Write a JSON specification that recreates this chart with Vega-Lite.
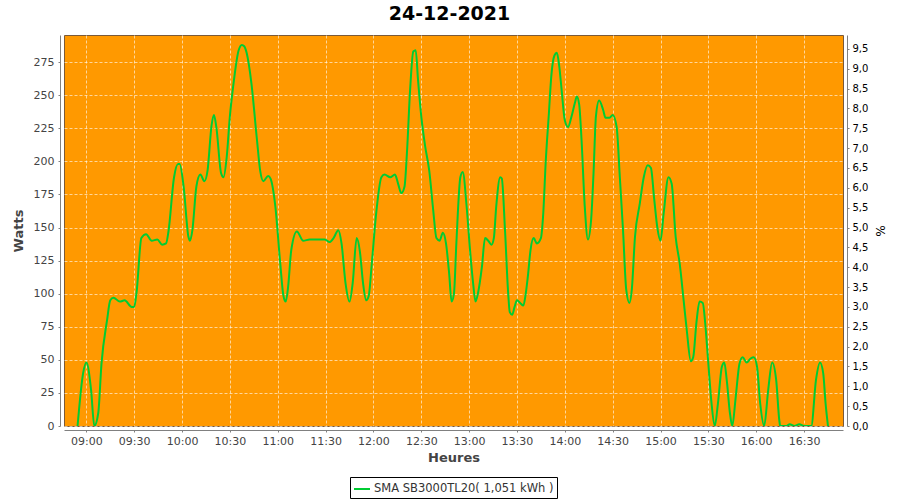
{
  "$schema": "https://vega.github.io/schema/vega-lite/v6.json",
  "width": 779,
  "height": 391,
  "autosize": {"type": "none"},
  "padding": {"left": 64, "top": 35, "right": 57, "bottom": 74},
  "background": "white",
  "title": {"text": "24-12-2021", "font": "DejaVu Sans", "fontSize": 19, "fontWeight": "bold", "color": "#000000", "offset": 11, "dx": -4},
  "data": {"values": [
    {"t": "2021-12-24T08:54:30", "w": 0},
    {"t": "2021-12-24T08:58:00", "w": 40},
    {"t": "2021-12-24T09:00:00", "w": 48},
    {"t": "2021-12-24T09:03:00", "w": 27},
    {"t": "2021-12-24T09:05:00", "w": 0},
    {"t": "2021-12-24T09:07:30", "w": 10},
    {"t": "2021-12-24T09:09:30", "w": 47},
    {"t": "2021-12-24T09:13:00", "w": 80},
    {"t": "2021-12-24T09:15:00", "w": 95},
    {"t": "2021-12-24T09:17:00", "w": 97},
    {"t": "2021-12-24T09:21:00", "w": 94},
    {"t": "2021-12-24T09:24:00", "w": 95},
    {"t": "2021-12-24T09:28:30", "w": 90},
    {"t": "2021-12-24T09:30:00", "w": 90},
    {"t": "2021-12-24T09:31:30", "w": 101},
    {"t": "2021-12-24T09:34:30", "w": 142},
    {"t": "2021-12-24T09:37:30", "w": 145},
    {"t": "2021-12-24T09:41:00", "w": 140},
    {"t": "2021-12-24T09:44:30", "w": 141},
    {"t": "2021-12-24T09:47:30", "w": 137},
    {"t": "2021-12-24T09:50:00", "w": 138},
    {"t": "2021-12-24T09:51:30", "w": 147},
    {"t": "2021-12-24T09:55:00", "w": 188},
    {"t": "2021-12-24T09:57:30", "w": 198},
    {"t": "2021-12-24T09:58:30", "w": 198},
    {"t": "2021-12-24T10:01:00", "w": 181},
    {"t": "2021-12-24T10:04:00", "w": 143},
    {"t": "2021-12-24T10:05:00", "w": 140},
    {"t": "2021-12-24T10:06:30", "w": 148},
    {"t": "2021-12-24T10:09:00", "w": 181},
    {"t": "2021-12-24T10:11:30", "w": 190},
    {"t": "2021-12-24T10:14:00", "w": 185},
    {"t": "2021-12-24T10:16:00", "w": 193},
    {"t": "2021-12-24T10:18:30", "w": 227},
    {"t": "2021-12-24T10:20:00", "w": 235},
    {"t": "2021-12-24T10:21:30", "w": 226},
    {"t": "2021-12-24T10:24:30", "w": 191},
    {"t": "2021-12-24T10:26:00", "w": 188},
    {"t": "2021-12-24T10:28:00", "w": 203},
    {"t": "2021-12-24T10:30:00", "w": 234},
    {"t": "2021-12-24T10:32:00", "w": 256},
    {"t": "2021-12-24T10:35:30", "w": 284},
    {"t": "2021-12-24T10:37:30", "w": 288},
    {"t": "2021-12-24T10:39:00", "w": 287},
    {"t": "2021-12-24T10:40:30", "w": 282},
    {"t": "2021-12-24T10:43:30", "w": 259},
    {"t": "2021-12-24T10:47:00", "w": 216},
    {"t": "2021-12-24T10:49:00", "w": 193},
    {"t": "2021-12-24T10:51:00", "w": 185},
    {"t": "2021-12-24T10:54:00", "w": 189},
    {"t": "2021-12-24T10:55:30", "w": 187},
    {"t": "2021-12-24T10:58:30", "w": 166},
    {"t": "2021-12-24T11:01:30", "w": 124},
    {"t": "2021-12-24T11:03:30", "w": 99},
    {"t": "2021-12-24T11:05:00", "w": 94},
    {"t": "2021-12-24T11:06:30", "w": 105},
    {"t": "2021-12-24T11:08:30", "w": 133},
    {"t": "2021-12-24T11:12:00", "w": 147},
    {"t": "2021-12-24T11:16:00", "w": 140},
    {"t": "2021-12-24T11:20:00", "w": 141},
    {"t": "2021-12-24T11:29:30", "w": 141},
    {"t": "2021-12-24T11:32:30", "w": 139},
    {"t": "2021-12-24T11:35:00", "w": 142},
    {"t": "2021-12-24T11:38:00", "w": 148},
    {"t": "2021-12-24T11:40:00", "w": 138},
    {"t": "2021-12-24T11:42:30", "w": 108},
    {"t": "2021-12-24T11:45:00", "w": 94},
    {"t": "2021-12-24T11:47:00", "w": 108},
    {"t": "2021-12-24T11:49:30", "w": 142},
    {"t": "2021-12-24T11:51:30", "w": 132},
    {"t": "2021-12-24T11:53:30", "w": 108},
    {"t": "2021-12-24T11:55:30", "w": 95},
    {"t": "2021-12-24T11:57:00", "w": 98},
    {"t": "2021-12-24T11:59:00", "w": 123},
    {"t": "2021-12-24T12:01:30", "w": 158},
    {"t": "2021-12-24T12:05:00", "w": 188},
    {"t": "2021-12-24T12:07:00", "w": 190},
    {"t": "2021-12-24T12:10:30", "w": 188},
    {"t": "2021-12-24T12:13:30", "w": 190},
    {"t": "2021-12-24T12:15:30", "w": 183},
    {"t": "2021-12-24T12:17:30", "w": 176},
    {"t": "2021-12-24T12:19:30", "w": 181},
    {"t": "2021-12-24T12:21:00", "w": 206},
    {"t": "2021-12-24T12:23:00", "w": 254},
    {"t": "2021-12-24T12:25:00", "w": 283},
    {"t": "2021-12-24T12:26:30", "w": 284},
    {"t": "2021-12-24T12:28:00", "w": 261},
    {"t": "2021-12-24T12:30:00", "w": 234},
    {"t": "2021-12-24T12:32:30", "w": 211},
    {"t": "2021-12-24T12:35:00", "w": 193},
    {"t": "2021-12-24T12:37:30", "w": 163},
    {"t": "2021-12-24T12:39:30", "w": 142},
    {"t": "2021-12-24T12:41:30", "w": 140},
    {"t": "2021-12-24T12:43:30", "w": 146},
    {"t": "2021-12-24T12:45:30", "w": 138},
    {"t": "2021-12-24T12:47:30", "w": 115},
    {"t": "2021-12-24T12:49:00", "w": 94},
    {"t": "2021-12-24T12:50:30", "w": 100},
    {"t": "2021-12-24T12:52:00", "w": 138},
    {"t": "2021-12-24T12:54:30", "w": 188},
    {"t": "2021-12-24T12:56:00", "w": 192},
    {"t": "2021-12-24T12:58:30", "w": 165},
    {"t": "2021-12-24T13:00:30", "w": 134},
    {"t": "2021-12-24T13:02:30", "w": 108},
    {"t": "2021-12-24T13:04:00", "w": 94},
    {"t": "2021-12-24T13:05:30", "w": 100},
    {"t": "2021-12-24T13:08:00", "w": 120},
    {"t": "2021-12-24T13:10:00", "w": 142},
    {"t": "2021-12-24T13:12:00", "w": 140},
    {"t": "2021-12-24T13:14:00", "w": 137},
    {"t": "2021-12-24T13:15:30", "w": 142},
    {"t": "2021-12-24T13:17:00", "w": 166},
    {"t": "2021-12-24T13:19:30", "w": 188},
    {"t": "2021-12-24T13:20:30", "w": 187},
    {"t": "2021-12-24T13:22:30", "w": 148},
    {"t": "2021-12-24T13:24:30", "w": 100},
    {"t": "2021-12-24T13:25:30", "w": 86},
    {"t": "2021-12-24T13:27:00", "w": 84},
    {"t": "2021-12-24T13:28:30", "w": 90},
    {"t": "2021-12-24T13:30:00", "w": 95},
    {"t": "2021-12-24T13:32:00", "w": 93},
    {"t": "2021-12-24T13:34:00", "w": 91},
    {"t": "2021-12-24T13:35:30", "w": 100},
    {"t": "2021-12-24T13:37:00", "w": 115},
    {"t": "2021-12-24T13:38:30", "w": 133},
    {"t": "2021-12-24T13:40:30", "w": 142},
    {"t": "2021-12-24T13:42:30", "w": 138},
    {"t": "2021-12-24T13:45:00", "w": 142},
    {"t": "2021-12-24T13:46:30", "w": 161},
    {"t": "2021-12-24T13:48:00", "w": 199},
    {"t": "2021-12-24T13:50:00", "w": 236},
    {"t": "2021-12-24T13:51:30", "w": 264},
    {"t": "2021-12-24T13:53:30", "w": 280},
    {"t": "2021-12-24T13:55:00", "w": 282},
    {"t": "2021-12-24T13:56:30", "w": 272},
    {"t": "2021-12-24T13:58:00", "w": 254},
    {"t": "2021-12-24T14:00:00", "w": 231},
    {"t": "2021-12-24T14:02:00", "w": 226},
    {"t": "2021-12-24T14:04:00", "w": 233},
    {"t": "2021-12-24T14:06:30", "w": 245},
    {"t": "2021-12-24T14:07:30", "w": 249},
    {"t": "2021-12-24T14:09:00", "w": 243},
    {"t": "2021-12-24T14:10:30", "w": 216},
    {"t": "2021-12-24T14:12:30", "w": 166},
    {"t": "2021-12-24T14:14:30", "w": 141},
    {"t": "2021-12-24T14:16:30", "w": 156},
    {"t": "2021-12-24T14:18:00", "w": 191},
    {"t": "2021-12-24T14:19:30", "w": 234},
    {"t": "2021-12-24T14:21:30", "w": 246},
    {"t": "2021-12-24T14:24:00", "w": 239},
    {"t": "2021-12-24T14:25:30", "w": 233},
    {"t": "2021-12-24T14:28:00", "w": 233},
    {"t": "2021-12-24T14:30:00", "w": 235},
    {"t": "2021-12-24T14:32:30", "w": 226},
    {"t": "2021-12-24T14:34:30", "w": 188},
    {"t": "2021-12-24T14:36:30", "w": 148},
    {"t": "2021-12-24T14:38:30", "w": 103},
    {"t": "2021-12-24T14:40:30", "w": 93},
    {"t": "2021-12-24T14:42:00", "w": 103},
    {"t": "2021-12-24T14:44:00", "w": 143},
    {"t": "2021-12-24T14:47:00", "w": 168},
    {"t": "2021-12-24T14:49:30", "w": 188},
    {"t": "2021-12-24T14:52:00", "w": 197},
    {"t": "2021-12-24T14:54:00", "w": 195},
    {"t": "2021-12-24T14:56:00", "w": 172},
    {"t": "2021-12-24T14:58:00", "w": 150},
    {"t": "2021-12-24T15:00:00", "w": 140},
    {"t": "2021-12-24T15:02:00", "w": 161},
    {"t": "2021-12-24T15:05:00", "w": 188},
    {"t": "2021-12-24T15:07:00", "w": 183},
    {"t": "2021-12-24T15:09:30", "w": 143},
    {"t": "2021-12-24T15:12:00", "w": 123},
    {"t": "2021-12-24T15:14:30", "w": 95},
    {"t": "2021-12-24T15:16:30", "w": 72},
    {"t": "2021-12-24T15:19:00", "w": 49},
    {"t": "2021-12-24T15:20:30", "w": 52},
    {"t": "2021-12-24T15:22:30", "w": 78},
    {"t": "2021-12-24T15:24:30", "w": 94},
    {"t": "2021-12-24T15:26:30", "w": 93},
    {"t": "2021-12-24T15:28:00", "w": 78},
    {"t": "2021-12-24T15:30:00", "w": 47},
    {"t": "2021-12-24T15:32:00", "w": 17},
    {"t": "2021-12-24T15:34:00", "w": 0},
    {"t": "2021-12-24T15:36:00", "w": 17},
    {"t": "2021-12-24T15:38:30", "w": 45},
    {"t": "2021-12-24T15:40:00", "w": 48},
    {"t": "2021-12-24T15:41:30", "w": 35},
    {"t": "2021-12-24T15:43:30", "w": 10},
    {"t": "2021-12-24T15:45:00", "w": 0},
    {"t": "2021-12-24T15:47:00", "w": 20},
    {"t": "2021-12-24T15:49:30", "w": 47},
    {"t": "2021-12-24T15:51:30", "w": 52},
    {"t": "2021-12-24T15:54:00", "w": 48},
    {"t": "2021-12-24T15:56:30", "w": 51},
    {"t": "2021-12-24T15:58:30", "w": 52},
    {"t": "2021-12-24T16:00:30", "w": 45},
    {"t": "2021-12-24T16:02:30", "w": 17},
    {"t": "2021-12-24T16:05:00", "w": 0},
    {"t": "2021-12-24T16:07:30", "w": 27},
    {"t": "2021-12-24T16:10:00", "w": 48},
    {"t": "2021-12-24T16:12:30", "w": 35},
    {"t": "2021-12-24T16:14:30", "w": 4},
    {"t": "2021-12-24T16:15:00", "w": 0},
    {"t": "2021-12-24T16:19:00", "w": 0},
    {"t": "2021-12-24T16:21:00", "w": 1.3},
    {"t": "2021-12-24T16:24:00", "w": 0},
    {"t": "2021-12-24T16:27:00", "w": 1.3},
    {"t": "2021-12-24T16:30:00", "w": 0},
    {"t": "2021-12-24T16:34:30", "w": 0},
    {"t": "2021-12-24T16:37:30", "w": 35},
    {"t": "2021-12-24T16:40:00", "w": 48},
    {"t": "2021-12-24T16:42:00", "w": 40},
    {"t": "2021-12-24T16:43:30", "w": 17},
    {"t": "2021-12-24T16:45:00", "w": 0}
  ]},
  "layer": [
    {
      "mark": {"type": "line", "strokeWidth": 2, "interpolate": "monotone", "clip": true},
      "encoding": {
        "x": {
          "field": "t", "type": "temporal",
          "scale": {"domain": [{"year": 2021, "month": 12, "date": 24, "hours": 8, "minutes": 46}, {"year": 2021, "month": 12, "date": 24, "hours": 16, "minutes": 54, "seconds": 25}]},
          "axis": {
            "title": "Heures", "format": "%H:%M",
            "values": [
              {"year": 2021, "month": 12, "date": 24, "hours": 9, "minutes": 0},
              {"year": 2021, "month": 12, "date": 24, "hours": 9, "minutes": 30},
              {"year": 2021, "month": 12, "date": 24, "hours": 10, "minutes": 0},
              {"year": 2021, "month": 12, "date": 24, "hours": 10, "minutes": 30},
              {"year": 2021, "month": 12, "date": 24, "hours": 11, "minutes": 0},
              {"year": 2021, "month": 12, "date": 24, "hours": 11, "minutes": 30},
              {"year": 2021, "month": 12, "date": 24, "hours": 12, "minutes": 0},
              {"year": 2021, "month": 12, "date": 24, "hours": 12, "minutes": 30},
              {"year": 2021, "month": 12, "date": 24, "hours": 13, "minutes": 0},
              {"year": 2021, "month": 12, "date": 24, "hours": 13, "minutes": 30},
              {"year": 2021, "month": 12, "date": 24, "hours": 14, "minutes": 0},
              {"year": 2021, "month": 12, "date": 24, "hours": 14, "minutes": 30},
              {"year": 2021, "month": 12, "date": 24, "hours": 15, "minutes": 0},
              {"year": 2021, "month": 12, "date": 24, "hours": 15, "minutes": 30},
              {"year": 2021, "month": 12, "date": 24, "hours": 16, "minutes": 0},
              {"year": 2021, "month": 12, "date": 24, "hours": 16, "minutes": 30}
            ],
            "offset": 4, "grid": true, "gridColor": "#FFFFFF", "gridOpacity": 0.6, "gridDash": [3, 2], "gridWidth": 1,
            "domainColor": "#808080", "tickColor": "#808080", "tickSize": 2,
            "labelFont": "DejaVu Sans", "labelFontSize": 11, "labelColor": "#444444", "labelPadding": 3,
            "titleFont": "DejaVu Sans", "titleFontSize": 13, "titleFontWeight": "bold", "titleColor": "#444444", "titlePadding": 5
          }
        },
        "y": {
          "field": "w", "type": "quantitative",
          "scale": {"domain": [0, 295.5], "nice": false, "zero": true},
          "axis": {
            "title": "Watts", "orient": "left", "values": [0, 25, 50, 75, 100, 125, 150, 175, 200, 225, 250, 275],
            "offset": 4, "grid": true, "gridColor": "#FFFFFF", "gridOpacity": 0.6, "gridDash": [3, 2], "gridWidth": 1,
            "domainColor": "#808080", "tickColor": "#808080", "tickSize": 2,
            "labelFont": "DejaVu Sans", "labelFontSize": 11, "labelColor": "#444444", "labelPadding": 4,
            "titleFont": "DejaVu Sans", "titleFontSize": 13, "titleFontWeight": "bold", "titleColor": "#444444", "titlePadding": 8
          }
        },
        "color": {
          "datum": "SMA SB3000TL20( 1,051 kWh )",
          "type": "nominal",
          "scale": {"range": ["#00CC33"]},
          "legend": {
            "title": null, "orient": "none", "legendX": 286, "legendY": 442,
            "strokeColor": "#000000", "fillColor": "#FFFFFF", "padding": 3,
            "symbolType": "stroke", "symbolSize": 256, "symbolStrokeWidth": 2,
            "labelFont": "DejaVu Sans", "labelFontSize": 11.5, "labelColor": "#333333", "labelOffset": 3, "labelLimit": 400
          }
        }
      }
    },
    {
      "mark": {"type": "line", "opacity": 0, "clip": true},
      "encoding": {
        "x": {"field": "t", "type": "temporal"},
        "y": {
          "field": "w", "type": "quantitative",
          "scale": {"domain": [0, 9.85], "nice": false, "zero": true},
          "axis": {
            "title": "%", "orient": "right", "values": [0, 0.5, 1, 1.5, 2, 2.5, 3, 3.5, 4, 4.5, 5, 5.5, 6, 6.5, 7, 7.5, 8, 8.5, 9, 9.5],
            "labelExpr": "replace(format(datum.value, '.1f'), '.', ',')",
            "offset": 4, "grid": false,
            "domainColor": "#808080", "tickColor": "#808080", "tickSize": 2,
            "labelFont": "DejaVu Sans", "labelFontSize": 10, "labelColor": "#000000", "labelPadding": 3,
            "titleFont": "DejaVu Sans", "titleFontSize": 12, "titleFontWeight": "normal", "titleColor": "#000000", "titlePadding": 5
          }
        }
      }
    }
  ],
  "resolve": {"scale": {"y": "independent"}},
  "config": {
    "view": {"fill": "#FF9900", "stroke": "#7a5a3a", "strokeWidth": 1}
  }
}
